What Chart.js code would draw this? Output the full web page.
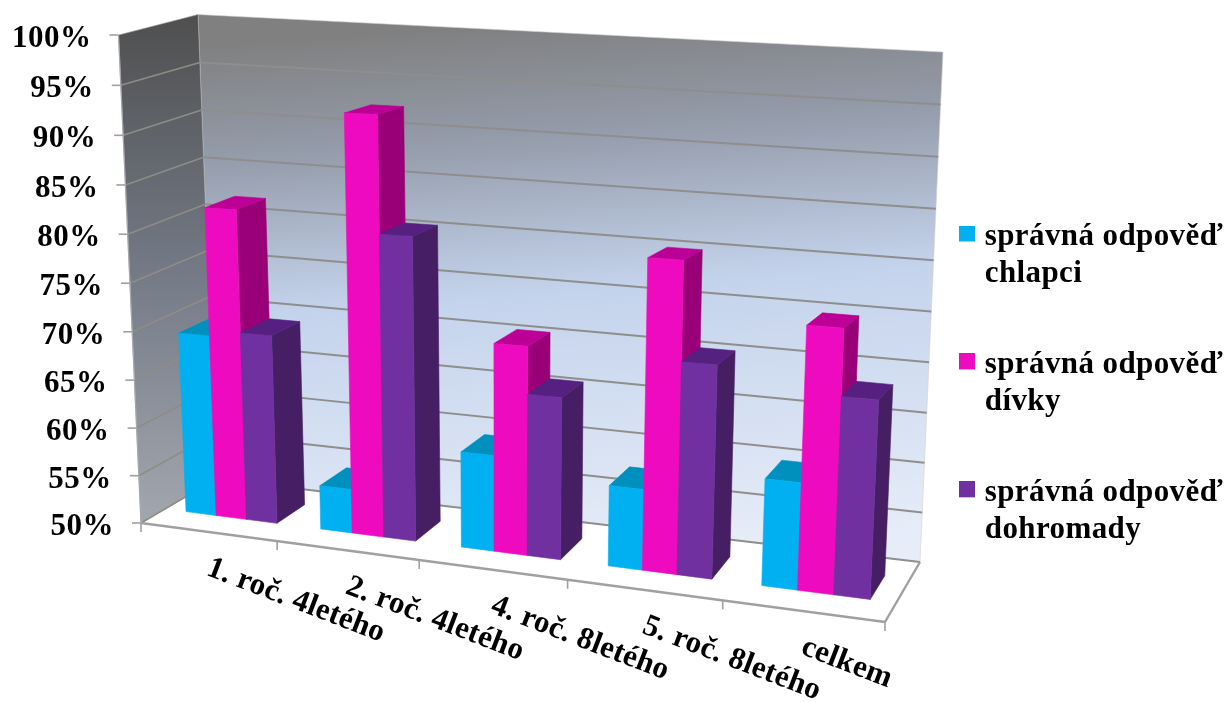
<!DOCTYPE html>
<html><head><meta charset="utf-8">
<style>html,body{margin:0;padding:0;background:#fff}#w{width:1224px;height:702px;position:relative}</style>
<script src="https://cdn.jsdelivr.net/npm/chart.js@4"></script>
</head><body><div id="w"><canvas id="c" width="1224" height="702"></canvas></div>
<script>
const categories = ['1. roč. 4letého','2. roč. 4letého','4. roč. 8letého','5. roč. 8letého','celkem'];
const chlapci   = [68.9, 54.5, 59.6, 57.9, 60.2];
const divky     = [82.1, 92.35, 70.7, 80.1, 74.9];
const dohromady = [69.5, 80.6, 66, 70.5, 68.6];
const seriesNames = [['správná odpověď','chlapci'],['správná odpověď','dívky'],['správná odpověď','dohromady']];
const frontColors = ['#00B0F0','#EE0BBF','#7030A0'];
const topColors   = ['#0090BE','#BC0096','#562080'];
const sideColors  = ['#007FA8','#990078','#461E64'];
const FONT = '"Liberation Serif"';

// 3D box: [x,y] of the eight corners of the plot box
const FLB=[141,523], FLT=[118.5,35], FRB=[885,622], FRT=[911,52];
const BLB=[216,479], BLT=[198,14.5], BRB=[920,562], BRT=[943,52];
const PERSP=1.116, PERSPV=1.035, W0=0.32, W1=0.72;
function P(u,vv,w){
  const s=u/(u+PERSP*(1-u));
  const v=vv/(vv+PERSPV*(1-vv));
  const f=(a,b,c,d,i)=>(a[i]*(1-s)+b[i]*s)*(1-v)+(c[i]*(1-s)+d[i]*s)*v;
  const out=[];
  for(const i of [0,1]){
    const fr=f(FLB,FRB,FLT,FRT,i), bk=f(BLB,BRB,BLT,BRT,i);
    out.push(fr*(1-w)+bk*w);
  }
  return out;
}
function poly(ctx,pts,fill,stroke){
  ctx.beginPath();pts.forEach((p,i)=>i?ctx.lineTo(p[0],p[1]):ctx.moveTo(p[0],p[1]));ctx.closePath();
  ctx.fillStyle=fill;ctx.fill();
  ctx.strokeStyle=stroke||fill;ctx.lineWidth=0.6;ctx.stroke();
}
function line(ctx,a,b,col,lw){ctx.beginPath();ctx.moveTo(a[0],a[1]);ctx.lineTo(b[0],b[1]);ctx.strokeStyle=col;ctx.lineWidth=lw;ctx.stroke();}
// legend marker: a square sitting at the top of a taller, otherwise empty tile
function marker(col){
  const m=document.createElement('canvas');m.width=16;m.height=23;
  const x=m.getContext('2d');x.fillStyle=col;x.fillRect(0,0,16,16);return m;
}

const scene={id:'scene',
  beforeLayout(chart){chart.ctx.letterSpacing='0.4px';},
  beforeDraw(chart){chart.ctx.letterSpacing='0.4px';chart.legend.right=chart.width;},
  beforeDatasetsDraw(chart){
    const ctx=chart.ctx, xs=chart.scales.x, ys=chart.scales.y, a=chart.chartArea;
    const U=x=>(x-a.left)/(a.right-a.left), V=y=>(a.bottom-y)/(a.bottom-a.top);
    ctx.save();
    // floor
    poly(ctx,[P(0,0,0),P(1,0,0),P(1,0,1),P(0,0,1)],'#ffffff','#ffffff');
    // back wall
    let g=ctx.createLinearGradient(560,20,600,560);
    g.addColorStop(0,'#808080');g.addColorStop(0.2,'#939aa8');g.addColorStop(0.5,'#c4d3ec');g.addColorStop(1,'#e7edf8');
    poly(ctx,[P(0,0,1),P(1,0,1),P(1,1,1),P(0,1,1)],g,'#d0d0d0');
    // left wall
    g=ctx.createLinearGradient(160,20,160,520);
    g.addColorStop(0,'#505050');g.addColorStop(0.5,'#737a86');g.addColorStop(1,'#a2a6ae');
    poly(ctx,[P(0,0,0),P(0,0,1),P(0,1,1),P(0,1,0)],g,'#a8a8a8');
    // gridlines + y ticks
    ctx.font='bold 31px '+FONT;ctx.textAlign='right';ctx.textBaseline='middle';ctx.letterSpacing='0.5px';
    ys.ticks.forEach((t,i)=>{
      const v=V(ys.getPixelForTick(i));
      if(v<1) line(ctx,P(0,v,1),P(1,v,1),'#8e8e8e',2);
      if(v<1) line(ctx,P(0,v,0),P(0,v,1),'#8e8c84',1.6);
      const p=P(0,v,0);
      line(ctx,[p[0]-9,p[1]],p,'#a0a0a0',1.6);
      ctx.fillStyle='#000';ctx.fillText(t.label,p[0]-27,p[1]+4);
    });
    // floor edges and x ticks
    line(ctx,P(0,0,0),P(1,0,0),'#a0a0a0',2.4);
    line(ctx,P(1,0,0),P(1,0,1),'#a0a0a0',2.4);
    line(ctx,P(0,0,0),P(0,1,0),'#a8a8a8',1.2);
    xs.ticks.forEach((t,i)=>{
      const c=U(xs.getPixelForTick(i)), half=0.1;
      const m=P(c,0,0), e=P(c+half,0,0), l=P(c-half,0,0);
      if(i===0) line(ctx,l,[l[0],l[1]+9],'#a0a0a0',1.6);
      line(ctx,e,[e[0],e[1]+9],'#a0a0a0',1.6);
      ctx.save();ctx.translate(m[0]+3,m[1]+32);ctx.rotate(21*Math.PI/180);
      ctx.font='bold 31px '+FONT;ctx.textAlign='left';ctx.textBaseline='middle';ctx.fillStyle='#000';
      ctx.letterSpacing='0.3px';
      ctx.fillText(t.label,-2,4);ctx.restore();
    });
    // bars, left to right
    const n=chart.data.labels.length;
    for(let c=0;c<n;c++){
      chart.data.datasets.forEach((d,di)=>{
        const el=chart.getDatasetMeta(di).data[c];
        const u0=U(el.x-el.width/2), u1=U(el.x+el.width/2), v0=Math.max(0,V(el.base)), v1=V(el.y);
        // right side
        poly(ctx,[P(u1,v0,W0),P(u1,v0,W1),P(u1,v1,W1),P(u1,v1,W0)],sideColors[di]);
        // top
        poly(ctx,[P(u0,v1,W0),P(u1,v1,W0),P(u1,v1,W1),P(u0,v1,W1)],topColors[di]);
        // front
        poly(ctx,[P(u0,v0,W0),P(u1,v0,W0),P(u1,v1,W0),P(u0,v1,W0)],frontColors[di]);
      });
    }
    ctx.restore();
  },
  beforeDatasetDraw(){return false;}
};

new Chart(document.getElementById('c'),{
  type:'bar',
  data:{labels:categories,datasets:[
    {label:seriesNames[0],data:chlapci,backgroundColor:frontColors[0],pointStyle:marker(frontColors[0])},
    {label:seriesNames[1],data:divky,backgroundColor:frontColors[1],pointStyle:marker(frontColors[1])},
    {label:seriesNames[2],data:dohromady,backgroundColor:frontColors[2],pointStyle:marker(frontColors[2])}
  ]},
  options:{
    responsive:false,animation:false,
    layout:{padding:{top:168,right:57,left:140,bottom:90}},
    barPercentage:1,categoryPercentage:0.68,
    scales:{
      x:{grid:{display:false},border:{display:false},ticks:{display:false}},
      y:{min:50,max:100,grid:{display:false},border:{display:false},
         ticks:{display:false,stepSize:5,callback:v=>v+'%'}}
    },
    plugins:{tooltip:{enabled:false},
      legend:{position:'right',align:'start',
        labels:{usePointStyle:true,boxWidth:5.5,boxHeight:8.5,padding:53.5,color:'#000',
          font:{family:FONT,weight:'bold',size:31,lineHeight:1.2}}}}
  },
  plugins:[scene]
});
</script></body></html>
